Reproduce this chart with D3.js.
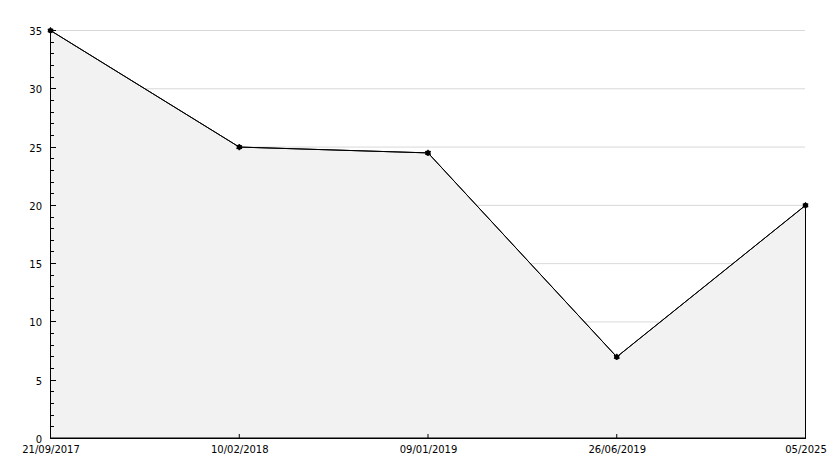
<!DOCTYPE html>
<html>
<head>
<meta charset="utf-8">
<script src="https://cdn.jsdelivr.net/npm/d3@7"></script>
<style>
  html, body { margin: 0; padding: 0; background: #fff; }
  svg { display: block; }
  text { font-family: "DejaVu Sans", sans-serif; font-size: 10px; fill: #000; }
</style>
</head>
<body>
<svg id="chart" width="834" height="468"></svg>
<script>
const categories = ["21/09/2017", "10/02/2018", "09/01/2019", "26/06/2019", "05/2025"];
const values = [35, 25, 24.5, 7, 20];
const yMajorTicks = [0, 5, 10, 15, 20, 25, 30, 35];
const yMinorTicks = d3.range(0, 36, 1);

const svg = d3.select("#chart");
const margin = { left: 50, right: 29, top: 30, bottom: 30 };
const W = 834, H = 468;

const x = d3.scalePoint().domain(categories).range([margin.left, W - margin.right]);
const y = d3.scaleLinear().domain([0, 35]).range([H - margin.bottom, margin.top]);

const data = categories.map((c, i) => ({ c, v: values[i] }));

// gridlines
svg.append("g").selectAll("line").data(yMajorTicks.filter(d => d > 0)).join("line")
  .attr("x1", margin.left).attr("x2", W - margin.right)
  .attr("y1", d => y(d) + 0.5).attr("y2", d => y(d) + 0.5)
  .attr("stroke", "#d9d9d9").attr("stroke-width", 1);

// area
const area = d3.area().x(d => x(d.c) + 0.5).y0(y(0)).y1(d => y(d.v) + 0.5);
svg.append("path").datum(data).attr("d", area)
  .attr("fill", "#f2f2f2").attr("stroke", "#000").attr("stroke-width", 1);

// line
const line = d3.line().x(d => x(d.c) + 0.5).y(d => y(d.v) + 0.5);
svg.append("path").datum(data).attr("d", line)
  .attr("fill", "none").attr("stroke", "#000").attr("stroke-width", 1);

// x axis
const xAxis = d3.axisBottom(x).tickSize(0).tickPadding(0);
const gx = svg.append("g").attr("transform", `translate(0.5,${y(0) + 0.5})`).call(xAxis);
gx.select(".domain").remove();
gx.selectAll("text").attr("dy", "0").attr("y", 14).style("font-family", "DejaVu Sans").style("font-size", "10px");
svg.append("line").attr("x1", margin.left).attr("x2", W - margin.right + 1)
  .attr("y1", y(0) + 0.5).attr("y2", y(0) + 0.5).attr("stroke", "#000");
// x tick marks (inside, upward)
svg.append("g").selectAll("line").data(categories).join("line")
  .attr("x1", d => x(d) + 0.5).attr("x2", d => x(d) + 0.5)
  .attr("y1", y(0)).attr("y2", y(0) - 4).attr("stroke", "#000");

// y axis
svg.append("line").attr("x1", margin.left + 0.5).attr("x2", margin.left + 0.5)
  .attr("y1", y(35)).attr("y2", y(0) + 1).attr("stroke", "#000");
svg.append("g").selectAll("line").data(yMinorTicks).join("line")
  .attr("x1", margin.left).attr("x2", d => margin.left + (d % 5 === 0 ? 6 : 4))
  .attr("y1", d => Math.round(y(d)) + 0.5).attr("y2", d => Math.round(y(d)) + 0.5)
  .attr("stroke", "#000");
const yAxis = d3.axisLeft(y).tickValues(yMajorTicks).tickSize(0).tickPadding(8).tickFormat(d3.format("d"));
const gy = svg.append("g").attr("transform", `translate(${margin.left},0.5)`).call(yAxis);
gy.select(".domain").remove();
gy.selectAll("text").style("font-family", "DejaVu Sans").style("font-size", "10px").attr("dy", "0.4em");

// markers
const markers = svg.append("g").selectAll("g").data(data).join("g")
  .attr("transform", d => `translate(${x(d.c) + 0.5},${y(d.v) + 0.5})`);
markers.append("circle").attr("r", 2.6).attr("fill", "#000");
markers.append("path")
  .attr("d", d3.symbol().type(d3.symbolAsterisk).size(28))
  .attr("fill", "none").attr("stroke", "#000").attr("stroke-width", 1.2);
</script>
</body>
</html>
